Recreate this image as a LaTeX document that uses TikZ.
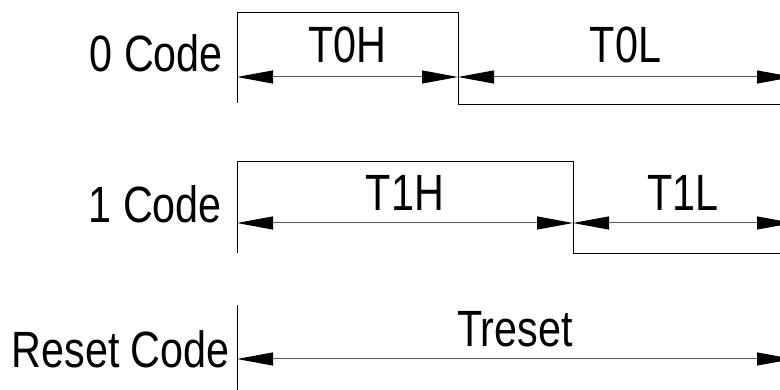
\documentclass[tikz,border=0pt]{standalone}
\usepackage{fontspec}
\newfontfamily\codefont[FakeStretch=0.81]{Liberation Sans}
\usetikzlibrary{arrows.meta}

\tikzset{
    wave/.style={line width=0.9pt, black},
    span/.style={line width=1pt, black!65,
        {Triangle[length=36pt,width=13pt,black]}-{Triangle[length=36pt,width=13pt,black]}},
    lbl/.style={font=\codefont\fontsize{51}{60}\selectfont, text=black, inner sep=0pt},
}

\begin{document}
\begin{tikzpicture}[x=1pt,y=-1pt]
    \clip (0,0) rectangle (780,390);
    % 0 Code
    \coordinate (a0) at (237,77);
    \coordinate (b0) at (458,77);
    \coordinate (c0) at (793,77);
    \draw[wave] (237,103) -- (237,12) -- (458,12) -- (458,104) -- (793,104);
    \draw[span] (a0) -- (b0) node[lbl, midway, anchor=base, yshift=14pt] (t0h) {T0H};
    \draw[span] (b0) -- (c0) node[lbl, midway, anchor=base, yshift=14pt] (t0l) {T0L};
    \node[lbl, anchor=base east] (zero) at (223,72) {0 Code};
    % 1 Code
    \coordinate (a1) at (237,223);
    \coordinate (b1) at (573,223);
    \coordinate (c1) at (793,223);
    \draw[wave] (237,253) -- (237,161) -- (573,161) -- (573,253) -- (793,253);
    \draw[span] (a1) -- (b1) node[lbl, midway, anchor=base, yshift=12pt] (t1h) {T1H};
    \draw[span] (b1) -- (c1) node[lbl, midway, anchor=base, yshift=12pt] (t1l) {T1L};
    \node[lbl, anchor=base east] (one) at (222,223) {1 Code};
    % Reset Code
    \coordinate (ar) at (237,359);
    \coordinate (cr) at (793,359);
    \draw[wave] (237,305) -- (237,390);
    \draw[span] (ar) -- (cr) node[lbl, midway, anchor=base, yshift=12pt] (tres) {Treset};
    \node[lbl, anchor=base east] (reset) at (230,368) {Reset Code};
\end{tikzpicture}
\end{document}
